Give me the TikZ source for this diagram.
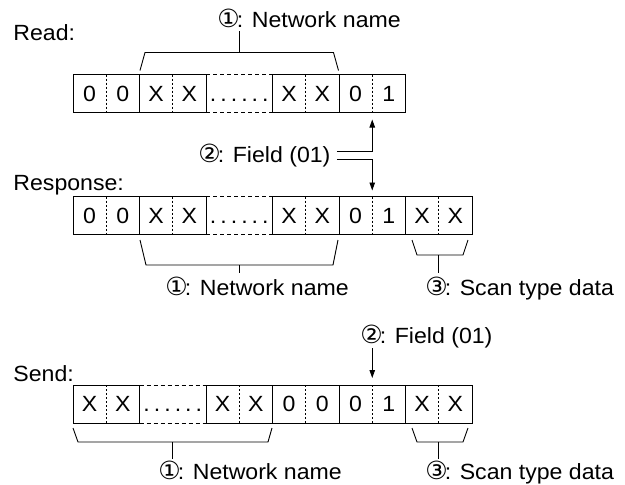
\documentclass[tikz,border=0pt]{standalone}
\usepackage{fontspec}
\setmainfont{Liberation Sans}[FakeStretch=1.05]
\newfontfamily\circfont{DejaVu Sans}
\usetikzlibrary{positioning,calc,arrows.meta}

\newcommand{\pair}[2]{\makebox[33.25pt]{#1}\makebox[33.25pt]{#2}}
\newcommand{\cnum}[1]{{\circfont\fontsize{25}{25}\selectfont #1}\kern-3pt}
\newcommand{\gapdots}{.\kern4pt.\kern4pt.\kern4pt.\kern4pt.\kern4pt.}

\begin{document}
\begin{tikzpicture}[x=1pt, y=-1pt, font=\fontsize{22}{26}\selectfont, line width=0.9pt]
  \tikzset{
    grp/.style={draw, minimum width=66.5pt, minimum height=38pt, inner sep=0pt, outer sep=0pt},
    gapgrp/.style={minimum width=66.5pt, minimum height=38pt, inner sep=0pt, outer sep=0pt},
    split/.style={dash pattern=on 2pt off 2pt, line width=0.7pt},
    gapline/.style={dash pattern=on 4pt off 3pt},
    lbl/.style={anchor=base west, inner sep=0pt},
    tip/.style={-{Triangle[length=8pt, width=5.5pt]}},
  }
  \useasboundingbox (0,0) rectangle (625,485);

  % Read
  \node[lbl] (read) at (13,40) {Read:};
  \node[grp] (rd1) at (106.25,93.5) {\pair{0}{0}};
  \node[grp, right=0pt of rd1] (rd2) {\pair{X}{X}};
  \node[gapgrp, right=0pt of rd2] (rd3) {\vphantom{X}\gapdots};
  \node[grp, right=0pt of rd3] (rd4) {\pair{X}{X}};
  \node[grp, right=0pt of rd4] (rd5) {\pair{0}{1}};
  \foreach \g in {rd1,rd2,rd4,rd5} \draw[split] (\g.north) -- (\g.south);
  \draw[gapline] (rd3.north west) -- (rd3.north east) (rd3.south west) -- (rd3.south east);

  % Read: network name brace
  \draw ($(rd2.north west)+(0.5,-4)$) -- ($(rd2.north west)+(5.5,-22)$)
     -- ($(rd4.north east)+(-5.5,-22)$) -- ($(rd4.north east)+(-0.5,-4)$);
  \coordinate (rdmid) at ($(rd2.north west)!0.5!(rd4.north east)+(0,-22)$);
  \node[lbl] (rdname) at (217,27) {\cnum{①}: Network name};
  \draw (rdmid) -- ++(0,-22);

  % Field between read and response
  \node[lbl] (fld) at (198,162) {\cnum{②}: Field (01)};

  % Response
  \node[lbl] (resp) at (13,190) {Response:};
  \node[grp] (rs1) at (106.25,215.5) {\pair{0}{0}};
  \node[grp, right=0pt of rs1] (rs2) {\pair{X}{X}};
  \node[gapgrp, right=0pt of rs2] (rs3) {\vphantom{X}\gapdots};
  \node[grp, right=0pt of rs3] (rs4) {\pair{X}{X}};
  \node[grp, right=0pt of rs4] (rs5) {\pair{0}{1}};
  \node[grp, right=0pt of rs5] (rs6) {\pair{X}{X}};
  \foreach \g in {rs1,rs2,rs4,rs5,rs6} \draw[split] (\g.north) -- (\g.south);
  \draw[gapline] (rs3.north west) -- (rs3.north east) (rs3.south west) -- (rs3.south east);

  \draw[tip, shorten >=7pt] ($(fld.east)+(6,-4)$) -| (rd5.south);
  \draw[tip, shorten >=6pt] ($(fld.east)+(6,4)$) -| (rs5.north);

  % Response: braces
  \draw ($(rs2.south west)+(0.5,5.5)$) -- ($(rs2.south west)+(6.5,30.5)$)
     -- ($(rs4.south east)+(-6,30.5)$) -- ($(rs4.south east)+(-1,5.5)$);
  \coordinate (rsmid) at ($(rs2.south west)!0.5!(rs4.south east)+(0,30.5)$);
  \draw ($(rs6.south west)+(6.5,5.5)$) -- ($(rs6.south west)+(11.5,20.5)$)
     -- ($(rs6.south east)+(-9,20.5)$) -- ($(rs6.south east)+(-4,5.5)$);
  \coordinate (rsscan) at ($(rs6.south west)!0.5!(rs6.south east)+(0,20.5)$);
  \node[lbl] (rsname) at (165,295) {\cnum{①}: Network name};
  \node[lbl] (rstype) at (425,295) {\cnum{③}: Scan type data};
  \draw (rsmid) -- ++(0,8);
  \draw (rsscan) -- ++(0,18);

  % Send
  \node[lbl] (send) at (13,381) {Send:};
  \node[lbl] (sfld) at (360,343) {\cnum{②}: Field (01)};
  \node[grp] (sd1) at (106.25,404) {\pair{X}{X}};
  \node[gapgrp, right=0pt of sd1] (sd2) {\vphantom{X}\gapdots};
  \node[grp, right=0pt of sd2] (sd3) {\pair{X}{X}};
  \node[grp, right=0pt of sd3] (sd4) {\pair{0}{0}};
  \node[grp, right=0pt of sd4] (sd5) {\pair{0}{1}};
  \node[grp, right=0pt of sd5] (sd6) {\pair{X}{X}};
  \foreach \g in {sd1,sd3,sd4,sd5,sd6} \draw[split] (\g.north) -- (\g.south);
  \draw[gapline] (sd2.north west) -- (sd2.north east) (sd2.south west) -- (sd2.south east);
  \draw[tip, shorten >=7pt] (sd5.north |- 0,348) -- (sd5.north);

  % Send: braces
  \draw ($(sd1.south west)+(0,5)$) -- ($(sd1.south west)+(5,19)$)
     -- ($(sd3.south east)+(-4.5,19)$) -- ($(sd3.south east)+(-0.5,5)$);
  \coordinate (sdmid) at ($(sd1.south west)!0.5!(sd3.south east)+(0,19)$);
  \draw ($(sd6.south west)+(6.5,5)$) -- ($(sd6.south west)+(11.5,19)$)
     -- ($(sd6.south east)+(-9,19)$) -- ($(sd6.south east)+(-4,5)$);
  \coordinate (sdscan) at ($(sd6.south west)!0.5!(sd6.south east)+(0,19)$);
  \node[lbl] (sdname) at (158,479) {\cnum{①}: Network name};
  \node[lbl] (sdtype) at (425,479) {\cnum{③}: Scan type data};
  \draw (sdmid) -- ++(0,17);
  \draw (sdscan) -- ++(0,17);
\end{tikzpicture}
\end{document}
